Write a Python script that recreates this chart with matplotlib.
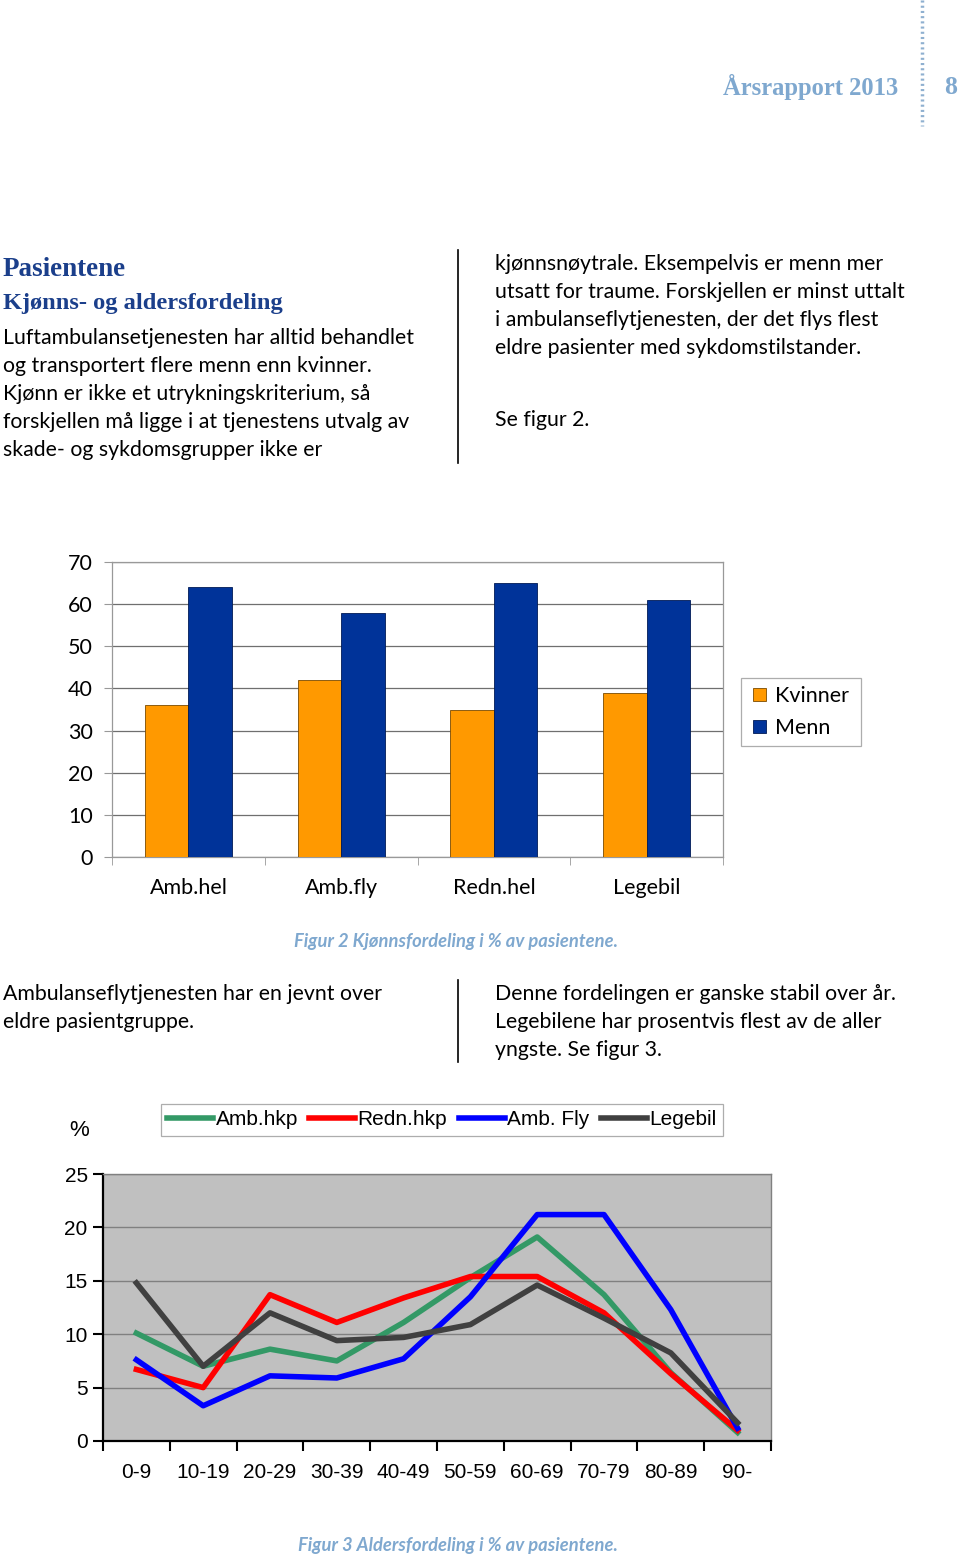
import matplotlib.pyplot as plt
import numpy as np

W, H = 960, 1561

# bar chart data (figur 2)
bar_cats = ['Amb.hel', 'Amb.fly', 'Redn.hel', 'Legebil']
kvinner = [36, 42, 35, 39]
menn = [64, 58, 65, 61]

# line chart data (figur 3)
age_groups = ['0-9', '10-19', '20-29', '30-39', '40-49', '50-59', '60-69', '70-79', '80-89', '90-']
amb_hkp = [10.1, 7.0, 8.6, 7.5, 11.1, 15.3, 19.1, 13.7, 6.4, 0.8]
redn_hkp = [6.7, 5.0, 13.7, 11.1, 13.4, 15.4, 15.4, 12.0, 6.3, 1.0]
amb_fly = [7.6, 3.3, 6.1, 5.9, 7.7, 13.5, 21.2, 21.2, 12.3, 1.2]
legebil = [14.8, 7.0, 12.0, 9.4, 9.7, 10.9, 14.6, 11.5, 8.25, 1.7]

body_font = ['Lato', 'DejaVu Sans']
head_font = ['Liberation Serif', 'DejaVu Serif']
arial = ['Liberation Sans', 'DejaVu Sans']
plt.rcParams['font.family'] = body_font

fig = plt.figure(figsize=(W / 100, H / 100), dpi=100)


def px(x, y):
    return x / W, 1 - y / H


def text(x, y, s, **kw):
    kw.setdefault('fontsize', 15.3)
    kw.setdefault('va', 'center')
    fig.text(*px(x, y), s, **kw)


def axes_px(left, top, right, bottom):
    return fig.add_axes([left / W, 1 - bottom / H, (right - left) / W, (bottom - top) / H])


# page header
text(898, 87, 'Årsrapport 2013', ha='right', fontsize=17.7, fontweight='bold',
     color='#7fa8cf', family=head_font)
text(951, 87, '8', ha='center', fontsize=18.5, fontweight='bold', color='#7fa8cf', family=head_font)
fig.add_artist(plt.Line2D([922 / W, 922 / W], [1, 1 - 126 / H], transform=fig.transFigure,
                          color='#8fb0d0', lw=2.5, linestyle=(0, (0.6, 0.9))))

# text section 1
blue_head = '#1b3f8b'
text(3, 269, 'Pasientene', fontsize=19.5, fontweight='bold', color=blue_head, family=head_font)
text(3, 303, 'Kjønns- og aldersfordeling', fontsize=17.6, fontweight='bold', color=blue_head, family=head_font)
left_lines = ['Luftambulansetjenesten har alltid behandlet',
              'og transportert flere menn enn kvinner.',
              'Kjønn er ikke et utrykningskriterium, så',
              'forskjellen må ligge i at tjenestens utvalg av',
              'skade- og sykdomsgrupper ikke er']
for i, s in enumerate(left_lines):
    text(3, 338 + 28 * i, s)
right_lines = ['kjønnsnøytrale. Eksempelvis er menn mer',
               'utsatt for traume. Forskjellen er minst uttalt',
               'i ambulanseflytjenesten, der det flys flest',
               'eldre pasienter med sykdomstilstander.']
for i, s in enumerate(right_lines):
    text(495, 264 + 28 * i, s)
text(495, 420, 'Se figur 2.')
fig.add_artist(plt.Line2D([458 / W, 458 / W], [1 - 250 / H, 1 - 463 / H],
                          transform=fig.transFigure, color='black', lw=1.2))

# figur 2: bar chart
ax1 = axes_px(112, 562, 723, 857)
x = np.arange(len(bar_cats))
bw = 0.285
ax1.bar(x - bw / 2, kvinner, bw, color='#ff9900', edgecolor='#7a4a00', linewidth=0.6,
        label='Kvinner', zorder=3)
ax1.bar(x + bw / 2, menn, bw, color='#003399', edgecolor='#001a55', linewidth=0.6,
        label='Menn', zorder=3)
ax1.set_xlim(-0.5, len(bar_cats) - 0.5)
ax1.set_ylim(0, 70)
ax1.set_yticks(range(0, 71, 10))
ax1.yaxis.grid(True, color='#6f6f6f', lw=0.9, zorder=0)
ax1.set_xticks(x)
ax1.set_xticklabels(bar_cats, fontsize=15.5)
ax1.set_xticks(np.arange(-0.5, len(bar_cats), 1), minor=True)
ax1.tick_params(axis='x', which='major', length=0, pad=15)
ax1.tick_params(axis='x', which='minor', length=6, color='#999999')
ax1.tick_params(axis='y', length=6, color='#999999', labelsize=15.5, pad=8)
for sp in ax1.spines.values():
    sp.set_color('#999999')
    sp.set_linewidth(0.9)
leg1 = ax1.legend(loc='upper left', bbox_to_anchor=(741 / W, 1 - 678 / H), bbox_transform=fig.transFigure,
                  fontsize=15.5, frameon=True, fancybox=False, edgecolor='#999999',
                  handlelength=0.6, handleheight=0.6, handletextpad=0.4, borderpad=0.38,
                  labelspacing=0.55, borderaxespad=0)
leg1.get_frame().set_linewidth(0.9)
# widen legend box to match the reference frame
leg1._legend_box.set_width(104)

text(456, 942, 'Figur 2 Kjønnsfordeling i % av pasientene.', ha='center', fontsize=13.2,
     fontweight='bold', style='italic', color='#7fa8cf')

# text section 2
text(3, 994, 'Ambulanseflytjenesten har en jevnt over')
text(3, 1022, 'eldre pasientgruppe.')
for i, s in enumerate(['Denne fordelingen er ganske stabil over år.',
                       'Legebilene har prosentvis flest av de aller',
                       'yngste. Se figur 3.']):
    text(495, 994 + 28 * i, s)
fig.add_artist(plt.Line2D([458 / W, 458 / W], [1 - 980 / H, 1 - 1062 / H],
                          transform=fig.transFigure, color='black', lw=1.2))

# figur 3: line chart
ax2 = axes_px(103, 1174, 771, 1441)
ax2.set_facecolor('#c0c0c0')
xa = np.arange(len(age_groups))
ax2.plot(xa, amb_hkp, color='#339966', lw=4, label='Amb.hkp', zorder=3)
ax2.plot(xa, redn_hkp, color='#ff0000', lw=4, label='Redn.hkp', zorder=3)
ax2.plot(xa, amb_fly, color='#0000ff', lw=4, label='Amb. Fly', zorder=3)
ax2.plot(xa, legebil, color='#404040', lw=4, label='Legebil', zorder=3)
ax2.set_xlim(-0.5, len(age_groups) - 0.5)
ax2.set_ylim(0, 25)
ax2.set_yticks(range(0, 26, 5))
ax2.yaxis.grid(True, color='#808080', lw=1.0, zorder=0)
ax2.set_xticks(xa)
ax2.set_xticklabels(age_groups, fontsize=15, family=arial)
ax2.set_xticks(np.arange(-0.5, len(age_groups), 1), minor=True)
ax2.tick_params(axis='x', which='major', length=0, pad=16)
ax2.tick_params(axis='x', which='minor', length=7, width=1.5, color='black')
ax2.tick_params(axis='y', length=7, width=1.5, color='black', pad=4)
for lab in ax2.get_yticklabels():
    lab.set_fontsize(15)
    lab.set_family(arial)
for side in ('top', 'right'):
    ax2.spines[side].set_color('#808080')
    ax2.spines[side].set_linewidth(1.0)
for side in ('left', 'bottom'):
    ax2.spines[side].set_color('black')
    ax2.spines[side].set_linewidth(1.6)
leg2 = ax2.legend(loc='upper left', bbox_to_anchor=(161 / W, 1 - 1104 / H), bbox_transform=fig.transFigure,
                  ncol=4, prop={'family': arial, 'size': 15}, frameon=True, fancybox=False,
                  edgecolor='#999999', handlelength=2.2, handletextpad=0.12, columnspacing=0.55,
                  borderpad=0.3, borderaxespad=0)
leg2.get_frame().set_linewidth(0.9)
text(79, 1131, '%', ha='center', fontsize=16, family=arial)

text(458, 1546, 'Figur 3 Aldersfordeling i % av pasientene.', ha='center', fontsize=13.2,
     fontweight='bold', style='italic', color='#7fa8cf')

fig.savefig('out.png', dpi=100, facecolor='white')
